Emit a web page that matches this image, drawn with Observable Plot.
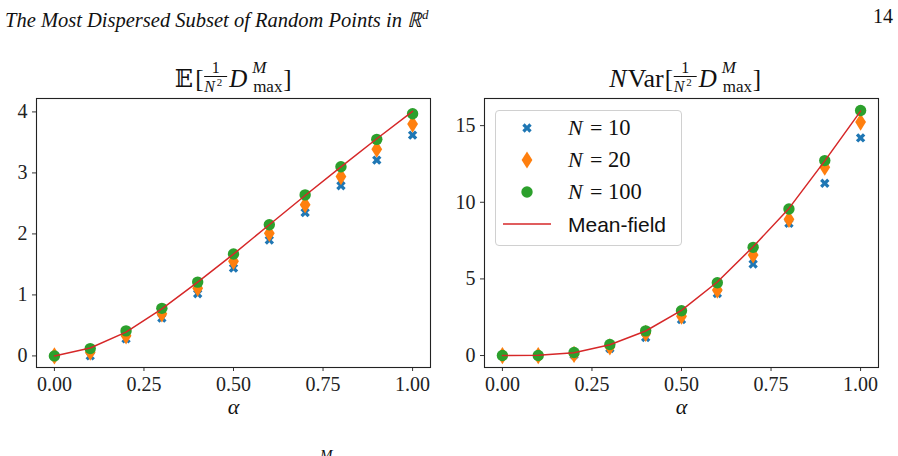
<!DOCTYPE html>
<html>
<head>
<meta charset="utf-8">
<script src="https://cdn.jsdelivr.net/npm/d3@7"></script>
<script src="https://cdn.jsdelivr.net/npm/@observablehq/plot@0.6"></script>
<style>
  html, body { margin: 0; padding: 0; background: white; }
  #root { position: relative; width: 898px; height: 456px; overflow: hidden; background: white; font-family: "Liberation Serif", serif; color: #111; }
  .abs { position: absolute; }
  .hdr { font-size: 20.5px; font-style: italic; top: 5px; left: 5px; white-space: nowrap; }
  .pg { font-size: 20px; top: 5px; right: 5px; }
  .legend { left: 495px; top: 110px; width: 187px; height: 136px; border: 1px solid #d0d0d0; border-radius: 4px; background: rgba(255,255,255,0.85); box-sizing: border-box; }
  #overlay text { font-family: "Liberation Serif", serif; fill: #111; }
</style>
</head>
<body>
<div id="root">
  <div class="abs hdr">The Most Dispersed Subset of Random Points in ℝ<sup style="font-size:13px">d</sup></div>
  <div class="abs pg">14</div>
  <div id="left" class="abs" style="left:0px; top:90px;"></div>
  <div id="right" class="abs" style="left:445px; top:90px;"></div>
  <div class="abs legend"></div>
  <svg id="overlay" class="abs" style="left:0; top:0;" width="898" height="456"></svg>
  <div class="abs" style="left:320px; top:447px; font-size:15px; font-style:italic;">M</div>
</div>
<script>
// ---- data ----
const alpha = [0, 0.1, 0.2, 0.3, 0.4, 0.5, 0.6, 0.7, 0.8, 0.9, 1.0];
const xTicks = [0, 0.25, 0.5, 0.75, 1.0];

// Left panel: E[ D_max^M / N^2 ]
const meanN10 = [0.0, 0.0, 0.28, 0.62, 1.02, 1.44, 1.90, 2.35, 2.79, 3.21, 3.62];
const meanN20 = [0.0, 0.06, 0.33, 0.69, 1.11, 1.55, 2.01, 2.48, 2.94, 3.39, 3.80];
const meanN100 = [0.0, 0.12, 0.41, 0.78, 1.21, 1.67, 2.15, 2.64, 3.10, 3.55, 3.97];
const meanMF = [0.0, 0.13, 0.39, 0.77, 1.21, 1.67, 2.15, 2.63, 3.10, 3.56, 4.01];
const leftYTicks = [0, 1, 2, 3, 4];

// Right panel: N Var[ D_max^M / N^2 ]
const varN10 = [0.0, 0.0, 0.05, 0.46, 1.18, 2.35, 4.05, 5.97, 8.63, 11.24, 14.2];
const varN20 = [0.0, 0.0, 0.07, 0.56, 1.44, 2.57, 4.27, 6.56, 8.89, 12.29, 15.23];
const varN100 = [0.0, 0.0, 0.2, 0.72, 1.61, 2.92, 4.75, 7.06, 9.56, 12.72, 15.99];
const varMF = [0.0, 0.02, 0.18, 0.7, 1.6, 2.95, 4.8, 7.1, 9.6, 12.7, 15.95];
const rightYTicks = [0, 5, 10, 15];

const legendNs = ["10", "20", "100"];
const legendLineLabel = "Mean-field";
const colors = {blue: "#1f77b4", orange: "#ff7f0e", green: "#2ca02c", red: "#d62728"};

// ---- custom matplotlib-like symbols ----
const symX = {
  draw(ctx) {
    const L = 5.0, w = 1.65;
    const pts = [[-w,-L],[w,-L],[w,-w],[L,-w],[L,w],[w,w],[w,L],[-w,L],[-w,w],[-L,w],[-L,-w],[-w,-w]]
      .map(([x,y]) => [(x - y) / Math.SQRT2, (x + y) / Math.SQRT2]);
    ctx.moveTo(pts[0][0], pts[0][1]);
    for (let i = 1; i < pts.length; i++) ctx.lineTo(pts[i][0], pts[i][1]);
    ctx.closePath();
  }
};
const symThinDiamond = {
  draw(ctx) {
    const hw = 5.4, hh = 8.6;
    ctx.moveTo(0, -hh); ctx.lineTo(hw, 0); ctx.lineTo(0, hh); ctx.lineTo(-hw, 0); ctx.closePath();
  }
};
const symCircle = {
  draw(ctx) {
    const r = 5.7;
    ctx.moveTo(r, 0); ctx.arc(0, 0, r, 0, 2 * Math.PI); ctx.closePath();
  }
};

function panel({n10, n20, n100, mf, yDomain, yTicks, width, marginLeft, marginRight}) {
  const rows = alpha.map((a, i) => ({a, n10: n10[i], n20: n20[i], n100: n100[i], mf: mf[i]}));
  return Plot.plot({
    width, height: 337,
    marginTop: 8, marginBottom: 60, marginLeft, marginRight,
    x: {domain: [-0.05, 1.05]},
    y: {domain: yDomain},
    style: {fontFamily: "Liberation Serif, serif", fontSize: "20px", color: "#222", background: "transparent", overflow: "visible"},
    marks: [
      Plot.axisX({ticks: xTicks, tickFormat: d3.format(".2f"), tickSize: 4, tickPadding: 5, fontSize: 20, label: null, stroke: "#333"}),
      Plot.axisY({ticks: yTicks, tickFormat: d3.format("d"), tickSize: 4, tickPadding: 5, fontSize: 20, label: null, stroke: "#333"}),
      Plot.dot(rows, {x: "a", y: "n10", symbol: symX, fill: colors.blue, stroke: "none"}),
      Plot.dot(rows, {x: "a", y: "n20", symbol: symThinDiamond, fill: colors.orange, stroke: "none"}),
      Plot.dot(rows, {x: "a", y: "n100", symbol: symCircle, fill: colors.green, stroke: "none"}),
      Plot.line(rows, {x: "a", y: "mf", stroke: colors.red, strokeWidth: 1.5}),
      Plot.frame({stroke: "#222", strokeWidth: 1.1}),
      Plot.text(["α"], {frameAnchor: "bottom", dy: 46, fontSize: 22, fontStyle: "italic", fill: "#111"})
    ]
  });
}

document.getElementById("left").append(panel({
  n10: meanN10, n20: meanN20, n100: meanN100, mf: meanMF,
  yDomain: [-0.19, 4.22], yTicks: leftYTicks, width: 445, marginLeft: 36, marginRight: 15
}));
document.getElementById("right").append(panel({
  n10: varN10, n20: varN20, n100: varN100, mf: varMF,
  yDomain: [-0.78, 16.77], yTicks: rightYTicks, width: 453, marginLeft: 39, marginRight: 20
}));

// ---- overlay: titles (math layout) and legend ----
const ov = d3.select("#overlay");
function txt(x, y, s, size, opts = {}) {
  const t = ov.append("text").attr("x", x).attr("y", y).attr("font-size", size).text(s);
  if (opts.italic) t.attr("font-style", "italic");
  if (opts.family) t.style("font-family", opts.family);
  if (opts.anchor) t.attr("text-anchor", opts.anchor);
  return t;
}
const BRACKET_W = 96;
// bracketed fraction part "[ 1/N^2 D^M_max ]" starting at bracket x position bx
function bracketPart(bx) {
  const base = 87;
  txt(bx, base, "[", 25);
  txt(bx + 20.5, 73, "1", 16, {anchor: "middle"});
  ov.append("line").attr("x1", bx + 9).attr("x2", bx + 32).attr("y1", 76.5).attr("y2", 76.5).attr("stroke", "#111").attr("stroke-width", 1);
  txt(bx + 9, 92, "N", 16, {italic: true});
  txt(bx + 21.5, 86, "2", 11);
  txt(bx + 34, base, "D", 25, {italic: true});
  txt(bx + 57, 73, "M", 17, {italic: true});
  txt(bx + 58, 92, "max", 17);
  txt(bx + 88, base, "]", 25);
}
// left title: E[...], centred on the left frame (~233)
{
  const e = txt(0, 87, "𝔼", 24, {family: "DejaVu Serif, DejaVu Sans, serif"});
  const we = e.node().getComputedTextLength();
  const total = we + 2 + BRACKET_W;
  const x0 = 233 - total / 2;
  e.attr("x", x0);
  bracketPart(x0 + we + 2);
}
// right title: N Var[...], laid out sequentially and centred (~686)
{
  const n = txt(0, 87, "N", 26, {italic: true});
  const v = txt(0, 87, "Var", 26);
  const wn = n.node().getComputedTextLength();
  const wv = v.node().getComputedTextLength();
  const total = wn + 1 + wv + 1 + BRACKET_W;
  const x0 = 685 - total / 2;
  n.attr("x", x0);
  v.attr("x", x0 + wn + 1);
  bracketPart(x0 + wn + 1 + wv + 1);
}

// legend symbols
const lx = 527;
[[symX, colors.blue, 128], [symThinDiamond, colors.orange, 160], [symCircle, colors.green, 192]].forEach(([s, c, y], i) => {
  ov.append("path").attr("d", d3.symbol(s)()).attr("fill", c).attr("transform", `translate(${lx},${y})`);
  const by = y + 7;
  txt(568, by, "N", 22, {italic: true});
  txt(590, by, "=", 22);
  txt(608, by, legendNs[i], 22.5);
});
ov.append("line").attr("x1", 503).attr("x2", 551).attr("y1", 224).attr("y2", 224).attr("stroke", colors.red).attr("stroke-width", 1.5);
txt(568, 232, legendLineLabel, 21, {family: "Liberation Sans, Arial, sans-serif"});
</script>
</body>
</html>
